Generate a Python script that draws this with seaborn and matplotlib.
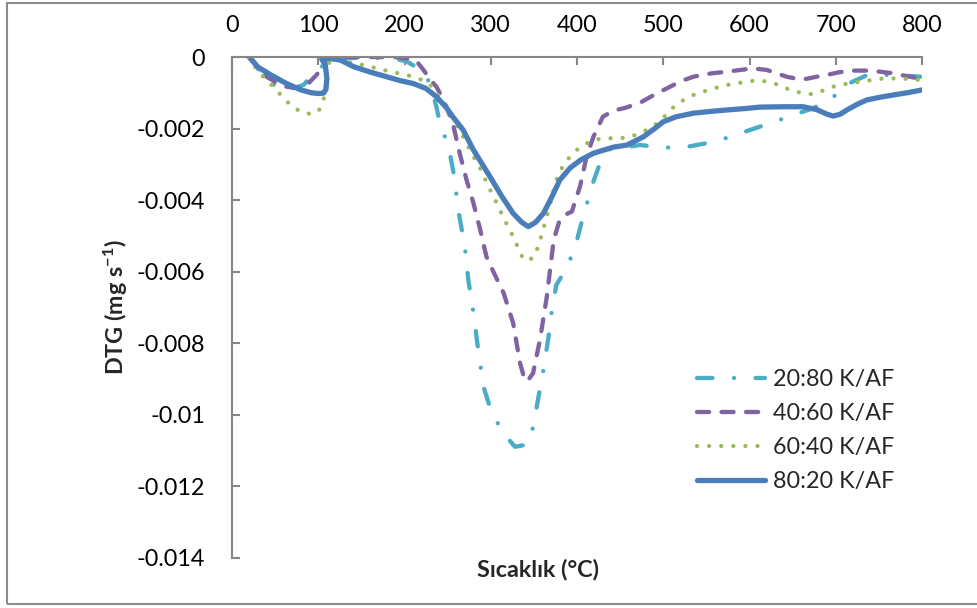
import matplotlib
matplotlib.use("Agg")
import matplotlib.pyplot as plt
import matplotlib.patches as mpatches
import numpy as np
import pandas as pd
import seaborn as sns

# Temperature (°C) and DTG (mg s^-1) for each K/AF blend ratio
t_20_80 = [20, 25, 33, 45, 56, 70, 83, 90, 97, 103, 110, 130, 160, 190, 203, 215, 226,
           232, 237, 241, 251, 257, 263, 270, 274, 280, 285, 291.5, 301, 315, 328, 338,
           345.5, 351, 355, 360, 367, 371, 376, 388, 398, 405, 411, 419, 428, 438, 473,
           500, 523, 550, 577, 598, 624, 651, 674, 696, 716, 737, 767, 798]
dtg_20_80 = [0.0, -0.00015, -0.00042, -0.0007, -0.00092, -0.00088, -0.00078, -0.00059,
             -0.00045, -0.0003, -0.0001, -0.00003, -0.00002, -0.00005, -0.00013, -0.0003,
             -0.00055, -0.00095, -0.00139, -0.00185, -0.0025, -0.00325, -0.00437, -0.0053,
             -0.00623, -0.00716, -0.0081, -0.00921, -0.00993, -0.01052, -0.01089, -0.01085,
             -0.01075, -0.0101, -0.00954, -0.0089, -0.00782, -0.00705, -0.00637, -0.0059,
             -0.0053, -0.00465, -0.00414, -0.00348, -0.00288, -0.00258, -0.00246, -0.00253,
             -0.00253, -0.00241, -0.00224, -0.00206, -0.00185, -0.00162, -0.00143, -0.00114,
             -0.00073, -0.0005, -0.0005, -0.00055]

t_40_60 = [19, 30, 40, 52, 63, 72, 79, 88, 98, 104, 107, 110, 125, 141, 160, 180, 195, 205,
           215, 222, 230, 237, 243, 249, 256, 264, 272, 280, 288, 295, 305, 315, 326, 334,
           338, 342, 349, 357, 365, 373, 380, 387, 394, 403.5, 411, 419, 430, 442, 456, 473,
           490, 508, 520, 535, 555, 574, 590, 604, 620, 632, 643, 655, 666, 678, 690, 703,
           717, 735, 751, 765, 775, 786, 796]
dtg_40_60 = [0.0, -0.00028, -0.00055, -0.00072, -0.00083, -0.00086, -0.00087, -0.00075,
             -0.0005, -0.0003, -0.00015, -0.00005, -0.00001, 0.0, 0.0, 0.0, -0.00001,
             -0.00005, -0.00015, -0.00036, -0.00064, -0.00083, -0.0011, -0.00142, -0.00185,
             -0.00269, -0.00344, -0.00409, -0.00485, -0.00558, -0.0061, -0.0066, -0.00744,
             -0.00856, -0.0089, -0.00907, -0.00884, -0.00791, -0.0067, -0.00511, -0.00455,
             -0.0044, -0.00432, -0.00362, -0.00279, -0.00223, -0.00167, -0.0015, -0.00142,
             -0.00128, -0.00105, -0.00083, -0.00068, -0.00055, -0.00046, -0.00041, -0.00036,
             -0.00032, -0.00036, -0.00046, -0.00055, -0.00061, -0.00061, -0.00055, -0.0005,
             -0.00043, -0.00038, -0.00038, -0.00041, -0.00045, -0.0005, -0.00055, -0.0006]

t_60_40 = [19, 29, 38, 48, 58, 69, 81, 94, 101, 105, 108, 109, 114, 130, 148, 175, 202, 218,
           230, 237, 249, 258, 268, 278, 287.5, 297, 307, 317, 326, 332, 338, 344, 349, 355,
           359, 367, 376, 385, 396, 404, 419, 431, 450, 461, 473, 488, 500, 508, 520, 535,
           555, 574, 602, 616, 630, 643, 656, 670, 684, 697, 712, 728, 755, 775, 798]
dtg_60_40 = [0.0, -0.00036, -0.0006, -0.00083, -0.0011, -0.00137, -0.00155, -0.0016,
             -0.00148, -0.0013, -0.001, -0.0005, -0.00005, -0.00012, -0.0002, -0.00036,
             -0.0005, -0.00062, -0.00078, -0.001, -0.00139, -0.0018, -0.00223, -0.0027,
             -0.0031, -0.0036, -0.00409, -0.0046, -0.00502, -0.00535, -0.00567, -0.00566,
             -0.00562, -0.0053, -0.00497, -0.00427, -0.00344, -0.00297, -0.00269, -0.0025,
             -0.00232, -0.00227, -0.00227, -0.00224, -0.00213, -0.00195, -0.0017, -0.00148,
             -0.00125, -0.00106, -0.0009, -0.00078, -0.00067, -0.00067, -0.00075, -0.00088,
             -0.00098, -0.00104, -0.00095, -0.00083, -0.00075, -0.00069, -0.0006, -0.0006,
             -0.00064]

t_80_20 = [22, 30, 45, 63, 80, 92, 100, 106, 109, 110, 108, 104, 112, 125, 141, 160, 179,
           195, 210, 225, 237, 248, 256, 268, 280, 299, 313, 326, 336, 343.5, 352, 361, 370,
           380, 392, 404, 419, 442, 458, 477, 490, 500, 515, 535, 555, 574, 595, 612, 640,
           662, 678, 690, 697, 705, 713, 725, 736, 750, 767, 785, 800]
dtg_80_20 = [-0.00005, -0.00028, -0.0005, -0.00074, -0.00092, -0.001, -0.00102, -0.00101,
             -0.0009, -0.0006, -0.0002, -0.00006, -0.00004, -0.00008, -0.00027, -0.00042,
             -0.00055, -0.00066, -0.00074, -0.00088, -0.00111, -0.0014, -0.00167, -0.00204,
             -0.0026, -0.00334, -0.0039, -0.00437, -0.00462, -0.00474, -0.00462, -0.00437,
             -0.00395, -0.00344, -0.0031, -0.00288, -0.00269, -0.00252, -0.00246, -0.00223,
             -0.002, -0.00181, -0.00167, -0.00157, -0.00152, -0.00148, -0.00144, -0.0014,
             -0.00139, -0.00139, -0.00147, -0.0016, -0.00165, -0.0016, -0.00148, -0.00132,
             -0.0012, -0.00113, -0.00106, -0.00099, -0.00092]

series_labels = ["20:80 K/AF", "40:60 K/AF", "60:40 K/AF", "80:20 K/AF"]
x_ticks = [0, 100, 200, 300, 400, 500, 600, 700, 800]
y_ticks = [0, -0.002, -0.004, -0.006, -0.008, -0.01, -0.012, -0.014]
y_tick_labels = ["0", "-0.002", "-0.004", "-0.006", "-0.008", "-0.01", "-0.012", "-0.014"]

sns.set_theme(style="white")
plt.rcParams["font.family"] = ["Lato", "DejaVu Sans"]
plt.rcParams["mathtext.default"] = "regular"

W, H = 977, 608
fig = plt.figure(figsize=(W / 100, H / 100), dpi=100)
ax = fig.add_axes([232 / W, 1 - 558 / H, (922 - 232) / W, (558 - 57) / H])

styles = [
    dict(color="#4BACC6", lw=3.1, ls=(0, (3.6, 5.0, 0.01, 5.0))),
    dict(color="#8064A2", lw=3.1, ls=(0, (2.8, 2.9))),
    dict(color="#9BBB59", lw=3.1, ls=(0, (0.01, 2.8))),
    dict(color="#4A7EBB", lw=3.8, ls="-"),
]
data = [(t_20_80, dtg_20_80), (t_40_60, dtg_40_60), (t_60_40, dtg_60_40), (t_80_20, dtg_80_20)]

for (t, d), lab, st in zip(data, series_labels, styles):
    df = pd.DataFrame({"T": t, "DTG": d})
    sns.lineplot(data=df, x="T", y="DTG", ax=ax, sort=False, color=st["color"],
                 linewidth=st["lw"], linestyle=st["ls"], label=lab,
                 dash_capstyle="round", solid_capstyle="round", legend=False)

ax.set_xlim(0, 800)
ax.set_ylim(-0.014, 0)
ax.set_xticks(x_ticks)
ax.set_xticklabels([str(v) for v in x_ticks])
ax.set_yticks(y_ticks)
ax.set_yticklabels(y_tick_labels)
ax.xaxis.tick_top()
ax.set_xlabel("")
ax.set_ylabel("")

spine_col = "#868686"
for side in ["right", "bottom"]:
    ax.spines[side].set_visible(False)
for side in ["left", "top"]:
    ax.spines[side].set_color(spine_col)
    ax.spines[side].set_linewidth(1.5)

ax.tick_params(axis="y", direction="in", length=6, width=1.5, color=spine_col,
               labelsize=16.8, pad=19.4, labelcolor="black", left=True)
ax.tick_params(axis="x", direction="in", length=6, width=1.5, color=spine_col,
               labelsize=16.8, pad=15, labelcolor="black", top=True, bottom=False)

fig.text(538 / W, 1 - 570 / H, "Sıcaklık (°C)", ha="center", va="center",
         fontsize=16.8, fontweight="bold")
fig.text(116 / W, 1 - 307 / H, "DTG (mg s$^{-1}$)", ha="center", va="center",
         rotation=90, fontsize=16.8, fontweight="bold")

leg = ax.legend(loc="upper left", bbox_to_anchor=(697 / W, 1 - 369 / H),
                bbox_transform=fig.transFigure, frameon=False, fontsize=16.8,
                handlelength=2.9, handletextpad=0.35, labelspacing=0.56,
                borderpad=0, borderaxespad=0)

# outer chart-area border
fig.add_artist(mpatches.Rectangle((7 / W, 1 - 604 / H), 1.2, (604 - 3) / H,
                                  transform=fig.transFigure, fill=False,
                                  edgecolor="#8c8c8c", linewidth=1.5, clip_on=False))

fig.savefig("out.png", dpi=100, facecolor="white")
